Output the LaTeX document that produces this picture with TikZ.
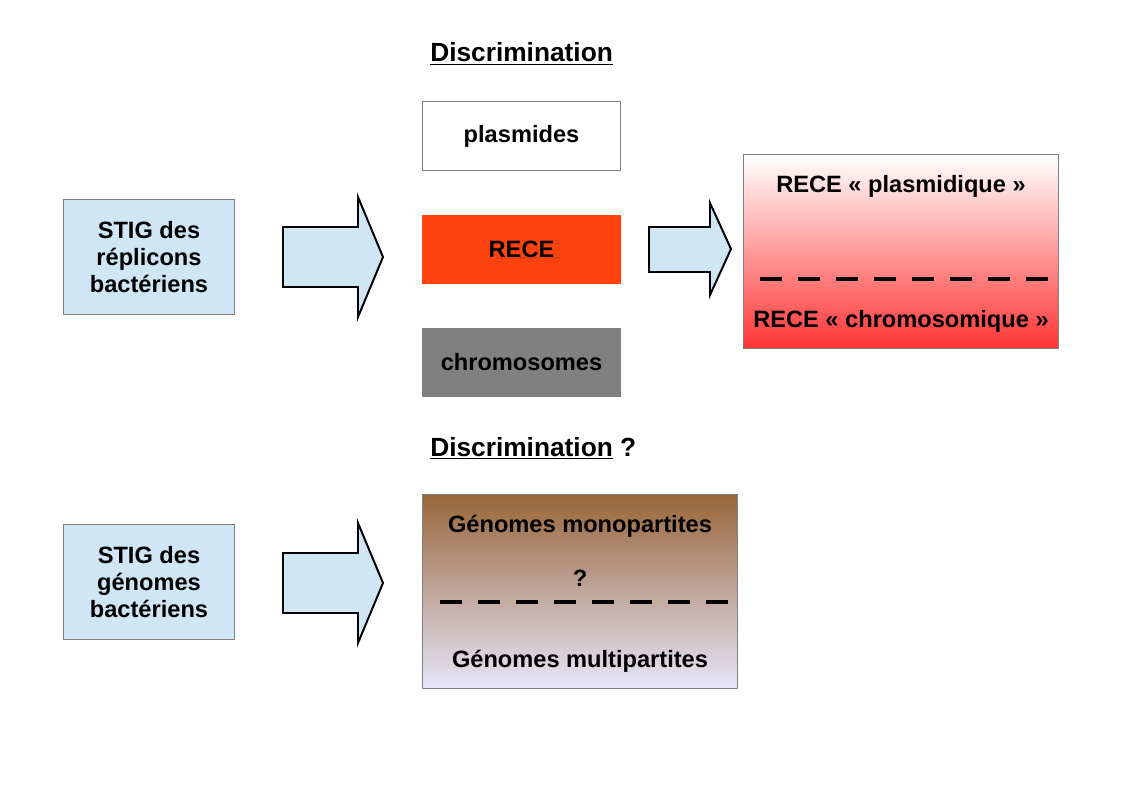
\documentclass[tikz,border=0pt]{standalone}
\usepackage{fontspec}
\setmainfont{Liberation Sans}
\usepackage{tikz}
\usetikzlibrary{positioning}
\definecolor{colorPale}{HTML}{CFE7F5}
\definecolor{colorRece}{HTML}{FF420E}
\definecolor{colorChrom}{HTML}{808080}
\definecolor{colorRed}{HTML}{FF3535}
\definecolor{colorBrown}{HTML}{99663A}
\definecolor{colorLavender}{HTML}{E6E6FA}
\tikzset{
  box/.style={draw=colorChrom, line width=0.7pt, align=center, inner sep=0pt,
    font=\fontsize{16.8}{19.3}\selectfont\bfseries},
  label/.style={inner sep=0pt, anchor=base, font=\fontsize{16.8}{19.3}\selectfont\bfseries},
  heading/.style={inner sep=0pt, anchor=base west, font=\fontsize{18.7}{21}\selectfont\bfseries},
  bigarrow/.style={draw=black, fill=colorPale, line width=1.4pt, line join=miter},
  sepline/.style={line width=3.4pt, dash pattern=on 15.5pt off 11.5pt}
}
\begin{document}
\begin{tikzpicture}[x=0.025cm, y=-0.025cm]
\useasboundingbox (0,0) rectangle (1123,794);
% top row
\node[heading] (disc1) at (430,62) {\underline{Discrimination}};
\node[box, fill=colorPale, minimum width=4.25cm, minimum height=2.85cm] (stigRep) at (149,257) {STIG des\\réplicons\\bactériens};
\node[box, fill=white, minimum width=4.925cm, minimum height=1.7cm] (plasm) at (521.5,136) {plasmides};
\node[box, fill=colorRece, draw=colorRece, minimum width=4.925cm, minimum height=1.7cm, below=1.1cm of plasm] (rece) {RECE};
\node[box, fill=colorChrom, minimum width=4.925cm, minimum height=1.7cm, below=1.1cm of rece] (chrom) {chromosomes};
\node[box, top color=white, bottom color=colorRed, minimum width=7.85cm, minimum height=4.825cm] (resRece) at (901,251.5) {};
\node[label] (lPlasm) at (901,192) {RECE « plasmidique »};
\node[label] (lChrom) at (901,327) {RECE « chromosomique »};
\coordinate (sepA1) at (760,279);
\coordinate (sepA2) at (1048,279);
\draw[sepline] (sepA1) -- (sepA2);
\draw[bigarrow] (283,227) -- ++(75,0) -- ++(0,-30) -- (383,257) -- (358,317) -- ++(0,-30) -- (283,287) -- cycle;
\draw[bigarrow] (649,227) -- ++(61,0) -- ++(0,-24) -- (731,249) -- (710,295) -- ++(0,-23) -- (649,272) -- cycle;
% bottom row
\node[heading] (disc2) at (430,456) {\underline{Discrimination} ?};
\node[box, fill=colorPale, minimum width=4.25cm, minimum height=2.85cm] (stigGen) at (149,582) {STIG des\\génomes\\bactériens};
\node[box, top color=colorBrown, bottom color=colorLavender, minimum width=7.85cm, minimum height=4.825cm] (gen) at (580,591.5) {};
\node[label] (lMono) at (580,532) {Génomes monopartites};
\node[label] (lQ) at (580,586) {?};
\node[label] (lMulti) at (580,667) {Génomes multipartites};
\coordinate (sepB1) at (440,602);
\coordinate (sepB2) at (728,602);
\draw[sepline] (sepB1) -- (sepB2);
\draw[bigarrow] (283,553) -- ++(75,0) -- ++(0,-30) -- (383,583) -- (358,643) -- ++(0,-30) -- (283,613) -- cycle;
\end{tikzpicture}
\end{document}
